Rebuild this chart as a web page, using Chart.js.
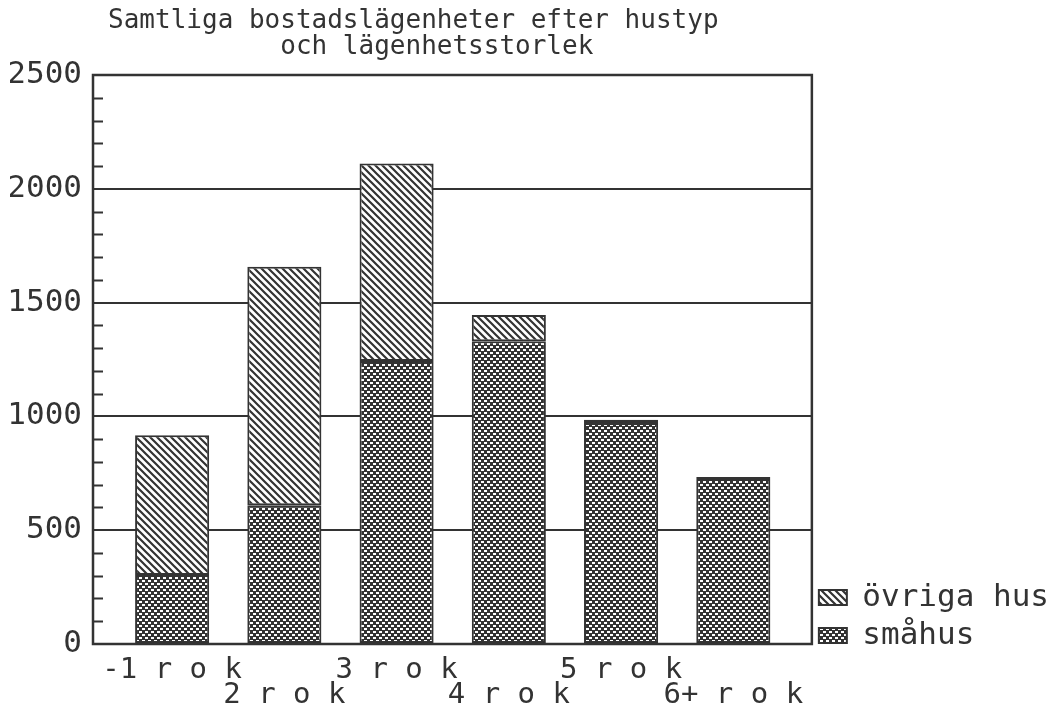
<!DOCTYPE html>
<html>
<head>
<meta charset="utf-8">
<script src="https://cdn.jsdelivr.net/npm/chart.js@4/dist/chart.umd.min.js"></script>
<style>
  body { margin: 0; background: #fff; }
  canvas { display: block; }
</style>
</head>
<body>
<canvas id="bostader" width="1060" height="713"></canvas>
<script>
// kategorier (x) och värden
var categories = ["-1 r o k", "2 r o k", "3 r o k", "4 r o k", "5 r o k", "6+ r o k"];
var smahus = [303, 610, 1243, 1330, 971, 725];
var ovrigaHus = [614, 1048, 868, 116, 14, 9];
var yTicks = [0, 500, 1000, 1500, 2000, 2500];
var minorStep = 100;

var INK = "#333";
var MONO = "'DejaVu Sans Mono', monospace";

// snedstreckat mönster (övriga hus)
function hatchPattern() {
    var c = document.createElement("canvas");
    c.width = 7; c.height = 7;
    var g = c.getContext("2d");
    g.fillStyle = "#fff";
    g.fillRect(0, 0, 7, 7);
    g.strokeStyle = INK;
    g.lineWidth = 2.2;
    g.beginPath();
    g.moveTo(-1, -1); g.lineTo(8, 8);
    g.moveTo(-8, -1); g.lineTo(1, 8);
    g.moveTo(6, -1); g.lineTo(15, 8);
    g.stroke();
    return g.createPattern(c, "repeat");
}

// prickigt mönster (småhus)
function dotPattern() {
    var c = document.createElement("canvas");
    c.width = 6; c.height = 6;
    var g = c.getContext("2d");
    g.fillStyle = INK;
    g.fillRect(0, 0, 6, 6);
    g.fillStyle = "#fff";
    g.fillRect(1, 1, 3, 2);
    g.fillRect(4, 4, 2, 2);
    g.fillRect(0, 4, 1, 2);
    return g.createPattern(c, "repeat");
}

// ram runt diagrammet + små skalstreck
var framePlugin = {
    id: "frame",
    afterDraw: function (chart) {
        var a = chart.chartArea;
        var ctx = chart.ctx;
        var y = chart.scales.y;
        ctx.save();
        ctx.strokeStyle = INK;
        ctx.lineWidth = 2.5;
        ctx.strokeRect(a.left, a.top, a.right - a.left, a.bottom - a.top);
        ctx.lineWidth = 2;
        ctx.beginPath();
        for (var v = minorStep; v < y.max; v += minorStep) {
            if (v % 500 === 0) continue;
            var py = Math.round(y.getPixelForValue(v)) + 0.5;
            ctx.moveTo(a.left, py);
            ctx.lineTo(a.left + 10, py);
        }
        ctx.stroke();
        ctx.restore();
    }
};

var chartData = {
    datasets: [{
        label: "småhus",
        data: smahus.map(function (v, i) { return { x: i, y: v }; }),
        backgroundColor: dotPattern(),
        borderColor: INK,
        borderWidth: 2,
        borderSkipped: false
    }, {
        label: "övriga hus",
        data: ovrigaHus.map(function (v, i) { return { x: i, y: v }; }),
        backgroundColor: hatchPattern(),
        borderColor: INK,
        borderWidth: 2,
        borderSkipped: false
    }]
};

var options = {
    responsive: false,
    animation: false,
    layout: {
        padding: { left: 10, right: 1, top: 0, bottom: 8 }
    },
    categoryPercentage: 1,
    barPercentage: 0.66,
    scales: {
        x: {
            type: "linear",
            stacked: true,
            offset: false,
            min: -0.705,
            max: 5.70,
            grid: { display: false, drawTicks: false },
            border: { display: false },
            afterBuildTicks: function (scale) {
                scale.ticks = categories.map(function (c, i) { return { value: i }; });
            },
            afterFit: function (scale) { scale.height = 61; },
            ticks: {
                autoSkip: false,
                maxRotation: 0,
                padding: 14,
                color: INK,
                font: { family: MONO, size: 29, lineHeight: "25px" },
                callback: function (value) {
                    var label = categories[value];
                    return value % 2 === 0 ? [label] : ["", label];
                }
            }
        },
        y: {
            stacked: true,
            min: 0,
            max: 2500,
            afterBuildTicks: function (scale) {
                scale.ticks = yTicks.map(function (v) { return { value: v }; });
            },
            afterFit: function (scale) { scale.width = 83; },
            grid: { color: INK, lineWidth: 2, drawTicks: false },
            border: { display: false },
            ticks: {
                padding: 11,
                color: INK,
                font: { family: MONO, size: 31 },
                callback: function (value) { return String(value); }
            }
        }
    },
    plugins: {
        title: {
            display: true,
            fullSize: false,
            // mellanslagen flyttar raderna lite åt vänster som i originalet
            text: ["Samtliga bostadslägenheter efter hustyp     ", "och lägenhetsstorlek  "],
            color: INK,
            font: { family: MONO, size: 26, weight: "normal", lineHeight: 1 },
            padding: { top: 8, bottom: 15 }
        },
        legend: {
            position: "right",
            align: "start",
            fullSize: true,
            reverse: true,
            title: {
                display: true,
                text: " ",
                font: { size: 10, lineHeight: 1 },
                padding: { top: 565, bottom: 0 }
            },
            labels: {
                boxWidth: 28,
                boxHeight: 15,
                padding: 7,
                color: INK,
                font: { family: MONO, size: 31 }
            }
        },
        tooltip: { enabled: false }
    }
};

var ctx = document.getElementById("bostader").getContext("2d");
var chartBostader = new Chart(ctx, {
    type: "bar",
    data: chartData,
    options: options,
    plugins: [framePlugin]
});
</script>
</body>
</html>
